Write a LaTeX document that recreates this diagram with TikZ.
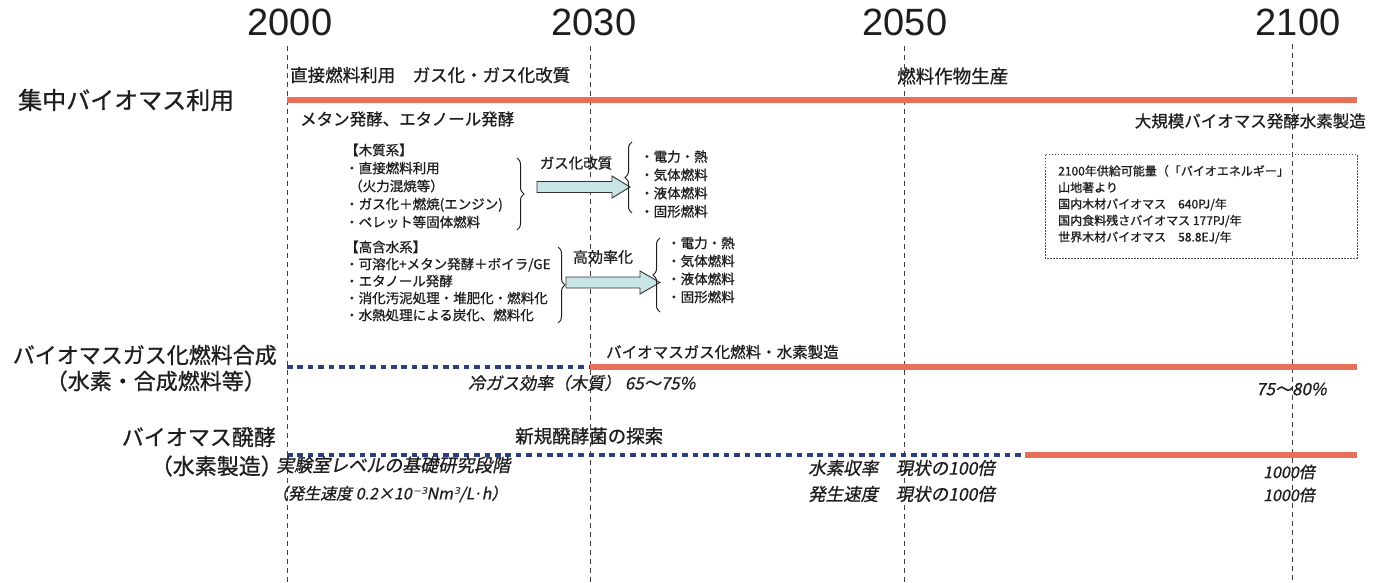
\documentclass[tikz,border=0pt]{standalone}
\usepackage{fontspec}
\setmainfont{Noto Sans CJK JP}[FakeBold=0.8]
\newfontfamily\jpit{Noto Sans CJK JP}[FakeSlant=0.2,FakeBold=0.8]
\newfontfamily\supit{DejaVu Sans}[FakeSlant=0.2]
\newfontfamily\yearfont{Liberation Sans}
\usetikzlibrary{decorations.pathreplacing}
\definecolor{barred}{RGB}{232,112,88}
\definecolor{dotblue}{RGB}{45,62,125}
\definecolor{arrowfill}{RGB}{200,228,228}
\definecolor{txt}{RGB}{30,30,30}
\tikzset{
  year/.style={font=\yearfont\fontsize{38}{40}\selectfont, text=txt, inner sep=0pt, anchor=base},
  gridline/.style={draw=black!75, line width=0.9pt, dash pattern=on 5pt off 4pt},
  redbar/.style={draw=barred, line width=6pt},
  dotbar/.style={draw=dotblue, line width=4.5pt, dash pattern=on 5.5pt off 4.9pt},
  rowlab/.style={font=\fontsize{22}{26}\selectfont, text=txt, inner sep=0pt},
  lab/.style={font=\fontsize{16.5}{20}\selectfont, text=txt, inner sep=0pt},
  itlab/.style={font=\jpit\fontsize{17}{20}\selectfont, text=txt, inner sep=0pt},
  blk/.style={font=\fontsize{13.5}{18}\selectfont, text=txt, align=left, inner sep=0pt},
  brc/.style={decorate, decoration={brace, amplitude=7pt}, draw=txt, line width=1pt},
  blockarrow/.style={draw=black!80, fill=arrowfill, line width=0.9pt, line join=miter},
  infobox/.style={draw=black!70, line width=1pt, dash pattern=on 1.5pt off 1.5pt},
}
\begin{document}
\begin{tikzpicture}[x=1pt,y=-1pt]
\useasboundingbox (0,0) rectangle (1379,583);
\fill[white] (0,0) rectangle (1379,583);

% years and grid lines
\node[year] (y2000) at (290,36) {2000};
\node[year] (y2030) at (594,36) {2030};
\node[year] (y2050) at (905,36) {2050};
\node[year] (y2100) at (1298,36) {2100};
\coordinate (g0t) at (287,46); \coordinate (g0b) at (287,583);
\coordinate (g1t) at (590,46); \coordinate (g1b) at (590,583);
\coordinate (g2t) at (904,46); \coordinate (g2b) at (904,583);
\coordinate (g3t) at (1292,44); \coordinate (g3b) at (1292,583);
\draw[gridline] (g0t) -- (g0b);
\draw[gridline] (g1t) -- (g1b);
\draw[gridline] (g2t) -- (g2b);
\draw[gridline] (g3t) -- (g3b);

% row 1
\node[rowlab, font=\fontsize{24}{26}\selectfont, anchor=west] (row1) at (18,100) {集中バイオマス利用};
\coordinate (r1a) at (287,100); \coordinate (r1b) at (1357,100);
\draw[redbar] (r1a) -- (r1b);
\node[lab, font=\fontsize{17.5}{20}\selectfont, anchor=west] (t1) at (290,75) {直接燃料利用　ガス化・ガス化改質};
\node[lab, font=\fontsize{18.5}{20}\selectfont, anchor=west] (t2) at (897,76) {燃料作物生産};
\node[lab, anchor=west] (t3) at (300,119) {メタン発酵、エタノール発酵};
\node[lab, anchor=east] (t4) at (1366,121) {大規模バイオマス発酵水素製造};

% block 1
\node[blk, anchor=west] (blk1) at (345,186) {【木質系】\\・直接燃料利用\\\hspace*{0.3em}（火力混焼等）\\・ガス化＋燃焼(エンジン)\\・ペレット等固体燃料};
\coordinate (b1t) at (517,158); \coordinate (b1b) at (517,230);
\draw[brc] (b1t) -- (b1b);
\node[blk, font=\fontsize{14.5}{18}\selectfont] (gk) at (576,163) {ガス化改質};
\coordinate (a1) at (537,187);
\draw[blockarrow] (a1) ++(0,-5.5) -- ++(75,0) -- ++(0,-5.5) -- ++(18,11) -- ++(-18,11) -- ++(0,-5.5) -- ++(-75,0) -- cycle;
\coordinate (c1b) at (632,213); \coordinate (c1t) at (632,142);
\draw[brc] (c1b) -- (c1t);
\node[blk, font=\fontsize{13.5}{18.3}\selectfont, anchor=west] (out1) at (640,184) {・電力・熱\\・気体燃料\\・液体燃料\\・固形燃料};

% block 2
\node[blk, font=\fontsize{13.5}{17}\selectfont, anchor=west] (blk2) at (345,281) {【高含水系】\\・可溶化+メタン発酵＋ボイラ/GE\\・エタノール発酵\\・消化汚泥処理・堆肥化・燃料化\\・水熱処理による炭化、燃料化};
\coordinate (b2t) at (558,247); \coordinate (b2b) at (558,323);
\draw[brc] (b2t) -- (b2b);
\node[blk, font=\fontsize{15}{18}\selectfont] (kk) at (603,257) {高効率化};
\coordinate (a2) at (566,282.5);
\draw[blockarrow] (a2) ++(0,-5.5) -- ++(74,0) -- ++(0,-6) -- ++(20,11.5) -- ++(-20,11.5) -- ++(0,-6) -- ++(-74,0) -- cycle;
\coordinate (c2b) at (660,312); \coordinate (c2t) at (660,238);
\draw[brc] (c2b) -- (c2t);
\node[blk, anchor=west] (out2) at (667,270) {・電力・熱\\・気体燃料\\・液体燃料\\・固形燃料};

% info box
\coordinate (ib1) at (1045,155); \coordinate (ib2) at (1357,258);
\draw[infobox] (ib1) rectangle (ib2);
\node[blk, font=\fontsize{12}{16.5}\selectfont, anchor=north west] (info) at (1058,165) {2100年供給可能量（「バイオエネルギー」\\山地著より\\国内木材バイオマス　640PJ/年\\国内食料残さバイオマス 177PJ/年\\世界木材バイオマス　58.8EJ/年};

% row 2
\node[rowlab, anchor=east] (row2) at (277,355) {バイオマスガス化燃料合成};
\node[rowlab, anchor=east] (row2b) at (266,381) {（水素・合成燃料等）};
\coordinate (r2a) at (287,367); \coordinate (r2m) at (590,367); \coordinate (r2b) at (1357,367);
\draw[dotbar] (r2a) -- (r2m);
\draw[redbar] (r2m) -- (r2b);
\node[lab, font=\fontsize{15.5}{18}\selectfont, anchor=west] (t5) at (606,352) {バイオマスガス化燃料・水素製造};
\node[itlab, anchor=west] (t6) at (468,383) {冷ガス効率（木質） 65～75\%};
\node[itlab, anchor=west] (t7) at (1256,389) {75～80\%};

% row 3
\node[rowlab, anchor=east] (row3) at (276,437) {バイオマス醗酵};
\node[rowlab, anchor=east] (row3b) at (283,466) {（水素製造）};
\coordinate (r3a) at (287,455); \coordinate (r3m) at (1025,455); \coordinate (r3b) at (1357,455);
\draw[dotbar] (r3a) -- (r3m);
\draw[redbar] (r3m) -- (r3b);
\node[lab, font=\fontsize{18.5}{20}\selectfont, anchor=west] (t8) at (515,436) {新規醗酵菌の探索};
\node[itlab, font=\jpit\fontsize{18}{20}\selectfont, anchor=west] (t9) at (276,465) {実験室レベルの基礎研究段階};
\node[itlab, font=\jpit\fontsize{16}{20}\selectfont, anchor=west] (t10) at (272,494) {（発生速度 0.2×10{\supit ⁻³}Nm{\supit ³}/L·h）};
\node[itlab, font=\jpit\fontsize{17.5}{20}\selectfont, anchor=west] (t11) at (808,468) {水素収率　現状の100倍};
\node[itlab, font=\jpit\fontsize{17.5}{20}\selectfont, anchor=west] (t12) at (808,494) {発生速度　現状の100倍};
\node[itlab, font=\jpit\fontsize{16}{20}\selectfont, anchor=west] (t13) at (1263,472) {1000倍};
\node[itlab, font=\jpit\fontsize{16}{20}\selectfont, anchor=west] (t14) at (1263,495) {1000倍};
\end{tikzpicture}
\end{document}
